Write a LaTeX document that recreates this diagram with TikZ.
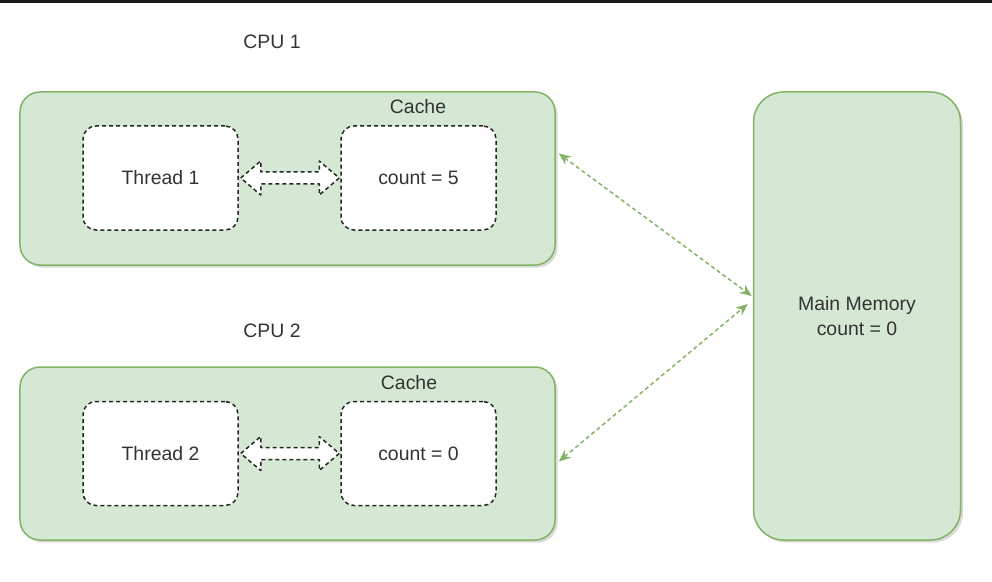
\documentclass[tikz,border=0pt]{standalone}
\usepackage{fontspec}
\setmainfont{Liberation Sans}
\usetikzlibrary{calc,arrows.meta,shadows}
\definecolor{gfill}{HTML}{D5E8D4}
\definecolor{gline}{HTML}{82B366}
\definecolor{txt}{HTML}{333333}
\tikzset{
  cpubox/.style={draw=gline, fill=gfill, line width=1.5bp, rounded corners=20bp,
    drop shadow={shadow xshift=2.5bp, shadow yshift=-2.5bp, opacity=0.25, fill=black!60},
    minimum width=535bp, minimum height=173bp, inner sep=0pt},
  membox/.style={draw=gline, fill=gfill, line width=1.5bp, rounded corners=30bp,
    drop shadow={shadow xshift=2.5bp, shadow yshift=-2.5bp, opacity=0.25, fill=black!60},
    minimum width=207bp, minimum height=448bp, inner sep=0pt, align=center,
    font=\fontsize{19.5}{25}\selectfont, text=txt},
  inbox/.style={draw=black!85, fill=white, line width=1.5bp, dash pattern=on 4bp off 3bp,
    rounded corners=13bp, minimum width=155bp, minimum height=104bp, inner sep=0pt,
    font=\fontsize{19.5}{25}\selectfont, text=txt},
  lbl/.style={font=\fontsize{19.5}{25}\selectfont, text=txt, inner sep=0pt},
  hollow/.style={draw=black!85, fill=white, line width=1.5bp, dash pattern=on 4bp off 3bp, line join=round},
  link/.style={draw=gline, line width=1.5bp, dash pattern=on 4bp off 3bp,
    {Stealth[length=12bp,width=10bp]}-{Stealth[length=12bp,width=10bp]}}
}
\begin{document}
\begin{tikzpicture}[x=1bp,y=-1bp]
\useasboundingbox (0,0) rectangle (992,582);
\fill[black!90] (0,0) rectangle (992,3);

\node[lbl] (cpu1lbl) at (272,42) {CPU 1};
\node[cpubox] (cpu1) at (287.5,178.5) {};
\node[lbl] (cache1) at (418,107) {Cache};
\node[inbox] (t1) at (160.5,178) {Thread 1};
\node[inbox] (c1) at (418.5,178) {count = 5};

\node[lbl] (cpu2lbl) at (272,331) {CPU 2};
\node[cpubox] (cpu2) at (287.5,453.5) {};
\node[lbl] (cache2) at (409,383) {Cache};
\node[inbox] (t2) at (160.5,453.5) {Thread 2};
\node[inbox] (c2) at (418.5,453.5) {count = 0};

\node[membox] (mem) at (857,316) {Main Memory\\count = 0};

% hollow double arrows
\foreach \a/\b in {t1/c1, t2/c2}{
  \coordinate (A) at ($(\a.east)+(2,0)$);
  \coordinate (B) at ($(\b.west)+(-1,0)$);
  \draw[hollow] (A) -- ($(A)+(20,-17)$) -- ($(A)+(20,-6)$) -- ($(B)+(-20,-6)$)
    -- ($(B)+(-20,-17)$) -- (B) -- ($(B)+(-20,17)$) -- ($(B)+(-20,6)$)
    -- ($(A)+(20,6)$) -- ($(A)+(20,17)$) -- cycle;
}

% connectors to main memory
\coordinate (m1) at ($(mem.west)+(-1,-20)$);
\coordinate (m2) at ($(mem.west)+(-5,-12)$);
\coordinate (p1) at ($(cpu1.east)+(3,-25)$);
\coordinate (p2) at ($(cpu2.east)+(3,8)$);
\draw[link] (p1) -- (m1);
\draw[link] (p2) -- (m2);
\end{tikzpicture}
\end{document}
